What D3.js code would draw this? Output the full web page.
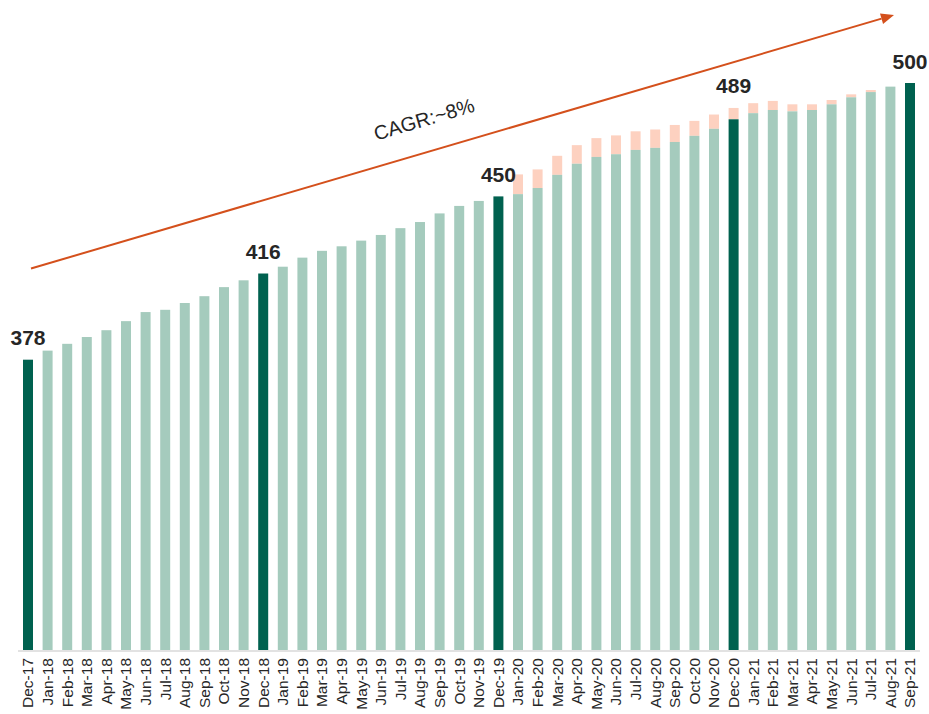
<!DOCTYPE html>
<html>
<head>
<meta charset="utf-8">
<script src="https://cdn.jsdelivr.net/npm/d3@7/dist/d3.min.js"></script>
<style>
  html, body { margin: 0; padding: 0; background: #fff; }
  svg { display: block; font-family: "Liberation Sans", Arial, sans-serif; }
</style>
</head>
<body>
<svg id="chart" width="929" height="714"></svg>
<script>
// Month-end categories, Dec-17 to Sep-21
const months = [
  "Dec-17","Jan-18","Feb-18","Mar-18","Apr-18","May-18","Jun-18","Jul-18","Aug-18","Sep-18","Oct-18","Nov-18",
  "Dec-18","Jan-19","Feb-19","Mar-19","Apr-19","May-19","Jun-19","Jul-19","Aug-19","Sep-19","Oct-19","Nov-19",
  "Dec-19","Jan-20","Feb-20","Mar-20","Apr-20","May-20","Jun-20","Jul-20","Aug-20","Sep-20","Oct-20","Nov-20",
  "Dec-20","Jan-21","Feb-21","Mar-21","Apr-21","May-21","Jun-21","Jul-21","Aug-21","Sep-21"
];

// Actual level per month
const actual = [
  378, 382, 385, 388, 391, 395, 399, 400, 403, 406, 410, 413,
  416, 419, 423, 426, 428, 430.5, 433, 436, 438.7, 442.5, 445.8, 448,
  450, 451, 453.7, 459.5, 464.4, 467.4, 468.6, 470.5, 471.4, 474, 476.7, 479.8,
  484, 486.7, 488.1, 487.5, 488.1, 490.6, 493.7, 496, 498.4, 500
];

// Shortfall stacked on top of the actual level (2020-21)
const shortfall = [
  0, 0, 0, 0, 0, 0, 0, 0, 0, 0, 0, 0,
  0, 0, 0, 0, 0, 0, 0, 0, 0, 0, 0, 0,
  0, 8.7, 8.2, 8.4, 8.2, 8.3, 8.3, 8.2, 8.1, 7.5, 6.6, 6.3,
  5, 4.4, 4.0, 3.1, 2.5, 1.9, 1.3, 0.9, 0, 0
];

// Months shown as dark, labelled bars
const keyMonths = ["Dec-17", "Dec-18", "Dec-19", "Dec-20", "Sep-21"];

const growthLabel = "CAGR:~8%";

const colors = {
  key: "#00614f",
  bar: "#a5cbbd",
  gap: "#fdd1c0",
  arrow: "#d4501c",
  text: "#262626",
  axis: "#d9d9d9"
};

const rows = months.map((m, i) => ({
  month: m,
  actual: actual[i],
  shortfall: shortfall[i],
  total: actual[i] + shortfall[i],
  key: keyMonths.includes(m)
}));

const svg = d3.select("#chart");

const x = d3.scaleBand()
  .domain(months)
  .range([18.2, 919.8])
  .paddingInner(0.49)
  .paddingOuter(0.245);

const y = d3.scaleLinear()
  .domain([250, 500])
  .range([650, 83]);

// Shortfall segments
svg.append("g")
  .selectAll("rect")
  .data(rows.filter(d => d.shortfall > 0))
  .join("rect")
  .attr("x", d => x(d.month))
  .attr("width", x.bandwidth())
  .attr("y", d => y(d.total))
  .attr("height", d => y(d.actual) - y(d.total))
  .attr("fill", colors.gap);

// Actual bars
svg.append("g")
  .selectAll("rect")
  .data(rows)
  .join("rect")
  .attr("x", d => x(d.month))
  .attr("width", x.bandwidth())
  .attr("y", d => y(d.actual))
  .attr("height", d => y(250) - y(d.actual))
  .attr("fill", d => d.key ? colors.key : colors.bar);

// Category axis
const xAxis = svg.append("g")
  .attr("transform", `translate(0,${y(250) + 1})`)
  .call(d3.axisBottom(x).tickSize(0).tickPadding(0));
xAxis.select(".domain")
  .attr("d", "M18,0H920")
  .attr("stroke", colors.axis)
  .attr("stroke-width", 1.5);
xAxis.selectAll(".tick text")
  .attr("transform", "rotate(-90)")
  .attr("text-anchor", "end")
  .attr("x", -7)
  .attr("y", 0)
  .attr("dy", "0.35em")
  .attr("fill", colors.text)
  .style("font-size", "15.5px")
  .style("font-family", "'Liberation Sans', Arial, sans-serif");

// Value labels on key months
svg.append("g")
  .selectAll("text")
  .data(rows.filter(d => d.key))
  .join("text")
  .attr("x", d => x(d.month) + x.bandwidth() / 2)
  .attr("y", d => y(d.total) - 14.5)
  .attr("text-anchor", "middle")
  .attr("fill", colors.text)
  .style("font-size", "21px")
  .style("font-weight", "bold")
  .text(d => d.total.toFixed(0));

// Growth arrow
const a0 = [31, 268.5], a1 = [894, 15];
const ang = Math.atan2(a1[1] - a0[1], a1[0] - a0[0]);
const headLen = 13, headHalf = 5.5;
const base = [a1[0] - headLen * Math.cos(ang), a1[1] - headLen * Math.sin(ang)];
svg.append("line")
  .attr("x1", a0[0]).attr("y1", a0[1])
  .attr("x2", base[0]).attr("y2", base[1])
  .attr("stroke", colors.arrow)
  .attr("stroke-width", 2);
svg.append("path")
  .attr("d", d3.line()([
    a1,
    [base[0] + headHalf * Math.sin(ang), base[1] - headHalf * Math.cos(ang)],
    [base[0] - headHalf * Math.sin(ang), base[1] + headHalf * Math.cos(ang)]
  ]) + "Z")
  .attr("fill", colors.arrow);

svg.append("text")
  .attr("transform", `translate(426,126) rotate(${ang * 180 / Math.PI})`)
  .attr("text-anchor", "middle")
  .attr("fill", colors.text)
  .style("font-size", "20px")
  .text(growthLabel);
</script>
</body>
</html>
